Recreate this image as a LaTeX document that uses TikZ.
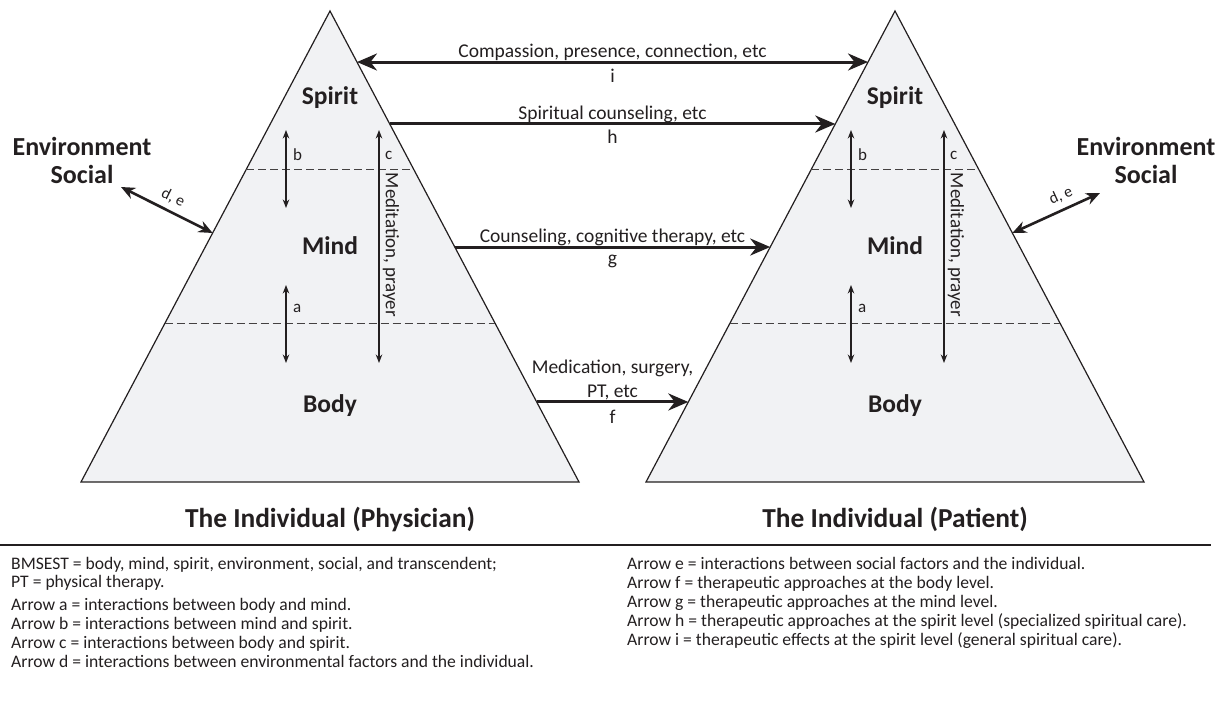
\documentclass[tikz,border=0pt]{standalone}
\usepackage{fontspec}
\setmainfont{Carlito}
\usetikzlibrary{arrows.meta,calc}
\definecolor{ink}{RGB}{35,31,32}
\definecolor{trifill}{RGB}{241,242,244}
\tikzset{
  bigtip/.tip={Stealth[length=20pt,width=17pt]},
  midtip/.tip={Stealth[length=14pt,width=12pt]},
  smalltip/.tip={Stealth[length=8.5pt,width=6.5pt]},
  tribox/.style={draw=ink, line width=1.2pt, fill=trifill, line join=miter},
  divider/.style={draw=ink!85, line width=1pt, dash pattern=on 8pt off 4pt},
  bigarrow/.style={draw=ink, line width=3pt},
  midarrow/.style={draw=ink, line width=2.6pt, midtip-midtip},
  smallarrow/.style={draw=ink, line width=1.2pt, smalltip-smalltip},
  lbl/.style={font=\fontsize{19.5}{23}\selectfont, text=ink, inner sep=0pt},
  sm/.style={font=\fontsize{17}{20}\selectfont, text=ink, inner sep=0pt},
  part/.style={font=\bfseries\fontsize{25.5}{30}\selectfont, text=ink, inner sep=0pt},
  env/.style={font=\bfseries\fontsize{26}{30}\selectfont, text=ink, inner sep=0pt},
  captxt/.style={font=\bfseries\fontsize{27.4}{32}\selectfont, text=ink, inner sep=0pt},
  note/.style={font=\fontsize{17.6}{21}\selectfont, text=ink, inner sep=0pt, anchor=base west},
}
\begin{document}
\begin{tikzpicture}[x=1pt,y=-1pt]
\useasboundingbox (0,0) rectangle (1219,704);
% triangles
\coordinate (LA) at (330,11);
\coordinate (LL) at (81,482);
\coordinate (LR) at (579,482);
\coordinate (RA) at (895,11);
\coordinate (RL) at (646,482);
\coordinate (RR) at (1144,482);
\draw[tribox] (LA) -- (LL) -- (LR) -- cycle;
\draw[tribox] (RA) -- (RL) -- (RR) -- cycle;
% dividers
\draw[divider] ($(LA)!0.3355!(LL)$) -- ($(LA)!0.3355!(LR)$);
\draw[divider] ($(LA)!0.6645!(LL)$) -- ($(LA)!0.6645!(LR)$);
\draw[divider] ($(RA)!0.3355!(RL)$) -- ($(RA)!0.3355!(RR)$);
\draw[divider] ($(RA)!0.6645!(RL)$) -- ($(RA)!0.6645!(RR)$);
% level labels
\node[part, anchor=base] (spL) at (330,104) {Spirit};
\node[part, anchor=base] (miL) at (330,254) {Mind};
\node[part, anchor=base] (boL) at (330,412) {Body};
\node[part, anchor=base] (spR) at (895,104) {Spirit};
\node[part, anchor=base] (miR) at (895,254) {Mind};
\node[part, anchor=base] (boR) at (895,412) {Body};
% internal arrows left
\coordinate (bLt) at (286,130); \coordinate (bLb) at (286,208);
\coordinate (aLt) at (286,285); \coordinate (aLb) at (286,363);
\coordinate (cLt) at (379,130); \coordinate (cLb) at (379,363);
\draw[smallarrow] (bLt) -- (bLb);
\draw[smallarrow] (aLt) -- (aLb);
\draw[smallarrow] (cLt) -- (cLb);
\node[sm, anchor=west] (bLl) at (293,155) {b};
\node[sm, anchor=west] (aLl) at (293,308) {a};
\node[sm, anchor=west] (cLl) at (385,155) {c};
\node[lbl, rotate=-90, font=\fontsize{19}{22}\selectfont] (medL) at (391,245) {Meditation, prayer};
% internal arrows right
\coordinate (bRt) at (851,130); \coordinate (bRb) at (851,208);
\coordinate (aRt) at (851,285); \coordinate (aRb) at (851,363);
\coordinate (cRt) at (944,130); \coordinate (cRb) at (944,363);
\draw[smallarrow] (bRt) -- (bRb);
\draw[smallarrow] (aRt) -- (aRb);
\draw[smallarrow] (cRt) -- (cRb);
\node[sm, anchor=west] (bRl) at (858,155) {b};
\node[sm, anchor=west] (aRl) at (858,308) {a};
\node[sm, anchor=west] (cRl) at (950,155) {c};
\node[lbl, rotate=-90, font=\fontsize{19}{22}\selectfont] (medR) at (956,245) {Meditation, prayer};
% horizontal arrows
\coordinate (Li) at ($(LA)!0.1083!(LR)$); \coordinate (Ri) at ($(RA)!0.1083!(RL)$);
\coordinate (Lh) at ($(LA)!0.2399!(LR)$); \coordinate (Rh) at ($(RA)!0.2399!(RL)$);
\coordinate (Lg) at ($(LA)!0.5011!(LR)$); \coordinate (Rg) at ($(RA)!0.5011!(RL)$);
\coordinate (Lf) at ($(LA)!0.8301!(LR)$); \coordinate (Rf) at ($(RA)!0.8301!(RL)$);
\draw[bigarrow, bigtip-bigtip] (Li) -- (Ri);
\draw[bigarrow, -bigtip] (Lh) -- (Rh);
\draw[bigarrow, -bigtip] (Lg) -- (Rg);
\draw[bigarrow, -bigtip] (Lf) -- (Rf);
\node[lbl, anchor=base] (ti) at (612.5,57) {Compassion, presence, connection, etc};
\node[lbl, anchor=base] (li) at (612.5,82) {i};
\node[lbl, anchor=base] (th) at (612.5,119) {Spiritual counseling, etc};
\node[lbl, anchor=base] (lh) at (612.5,143) {h};
\node[lbl, anchor=base] (tg) at (612.5,242) {Counseling, cognitive therapy, etc};
\node[lbl, anchor=base] (lg) at (612.5,264) {g};
\node[lbl, anchor=base] (tf1) at (612.5,373) {Medication, surgery,};
\node[lbl, anchor=base] (tf2) at (612.5,397) {PT, etc};
\node[lbl, anchor=base] (lf) at (612.5,423) {f};
% environment / social
\node[env, anchor=base] (envL) at (82,155) {Environment};
\node[env, anchor=base] (socL) at (82,183) {Social};
\node[env, anchor=base] (envR) at (1146,155) {Environment};
\node[env, anchor=base] (socR) at (1146,183) {Social};
\coordinate (deLo) at (121,187);
\coordinate (deLi) at ($(LA)!0.4713!(LL)$);
\coordinate (deRi) at ($(RA)!0.4713!(RR)$);
\coordinate (deRo) at (1100,193);
\draw[midarrow] (deLo) -- node[sm, sloped, above=6pt, pos=0.5, font=\fontsize{16}{18}\selectfont] (deLl) {d, e} (deLi);
\draw[midarrow] (deRi) -- node[sm, sloped, above=6pt, pos=0.62, font=\fontsize{16}{18}\selectfont] (deRl) {d, e} (deRo);
% captions
\node[captxt, anchor=base] (capL) at (330,527) {The Individual (Physician)};
\node[captxt, anchor=base] (capR) at (895,527) {The Individual (Patient)};
\coordinate (ruleL) at (0,545);
\coordinate (ruleR) at (1211,545);
\draw[draw=ink, line width=1.3pt] (ruleL) -- (ruleR);
% notes
\node[note] (n1) at (11,569) {BMSEST = body, mind, spirit, environment, social, and transcendent;};
\node[note] (n2) at (11,587) {PT = physical therapy.};
\node[note] (n3) at (11,610) {Arrow a = interactions between body and mind.};
\node[note] (n4) at (11,629) {Arrow b = interactions between mind and spirit.};
\node[note] (n5) at (11,648) {Arrow c = interactions between body and spirit.};
\node[note] (n6) at (11,667) {Arrow d = interactions between environmental factors and the individual.};
\node[note] (n7) at (627,569) {Arrow e = interactions between social factors and the individual.};
\node[note] (n8) at (627,588) {Arrow f = therapeutic approaches at the body level.};
\node[note] (n9) at (627,607) {Arrow g = therapeutic approaches at the mind level.};
\node[note] (n10) at (627,626) {Arrow h = therapeutic approaches at the spirit level (specialized spiritual care).};
\node[note] (n11) at (627,645) {Arrow i = therapeutic effects at the spirit level (general spiritual care).};
\end{tikzpicture}
\end{document}
